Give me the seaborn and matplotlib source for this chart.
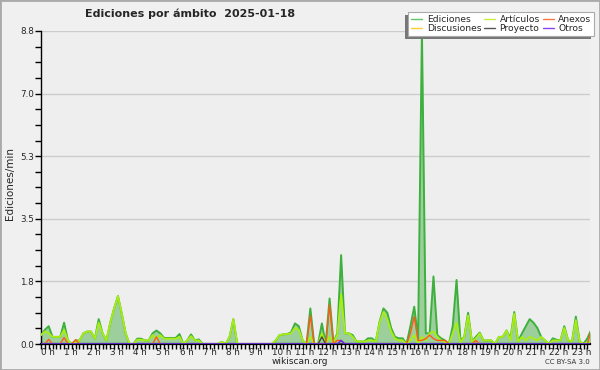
import numpy as np
import matplotlib
matplotlib.use("Agg")
import matplotlib.pyplot as plt
from matplotlib.lines import Line2D
from matplotlib.patches import Rectangle
from matplotlib.ticker import FixedLocator
import seaborn as sns

# 10-minute steps over the day (0h00 .. 23h50)
hours = np.arange(144) / 6

ediciones = [
    0.25, 0.4, 0.5, 0.2, 0.2, 0.2, 0.6, 0.1, 0.0, 0.1, 0.1, 0.3,
    0.35, 0.35, 0.15, 0.7, 0.3, 0.1, 0.6, 1.0, 1.35, 0.85, 0.3, 0.0,
    0.0, 0.15, 0.15, 0.1, 0.1, 0.3, 0.38, 0.3, 0.17, 0.17, 0.17, 0.17,
    0.28, 0.0, 0.1, 0.27, 0.1, 0.13, 0.0, 0.0, 0.0, 0.0, 0.0, 0.06,
    0.0, 0.2, 0.7, 0.0, 0.0, 0.0, 0.0, 0.0, 0.0, 0.0, 0.0, 0.0,
    0.0, 0.1, 0.25, 0.27, 0.28, 0.33, 0.58, 0.5, 0.1, 0.0, 1.0, 0.0,
    0.0, 0.58, 0.0, 1.28, 0.05, 0.3, 2.5, 0.3, 0.3, 0.25, 0.07, 0.07,
    0.07, 0.16, 0.16, 0.07, 0.63, 1.0, 0.88, 0.45, 0.2, 0.16, 0.16, 0.0,
    0.5, 1.05, 0.15, 8.8, 0.3, 0.3, 1.9, 0.25, 0.16, 0.1, 0.0, 0.5,
    1.8, 0.1, 0.2, 0.88, 0.07, 0.2, 0.32, 0.1, 0.1, 0.1, 0.0, 0.2,
    0.2, 0.38, 0.16, 0.9, 0.07, 0.3, 0.5, 0.7, 0.6, 0.45, 0.2, 0.1,
    0.0, 0.16, 0.12, 0.1, 0.5, 0.1, 0.07, 0.77, 0.07, 0.0, 0.16, 0.4,
]

articulos = [
    0.25, 0.35, 0.3, 0.2, 0.2, 0.2, 0.4, 0.1, 0.0, 0.05, 0.1, 0.3,
    0.35, 0.35, 0.15, 0.6, 0.3, 0.1, 0.6, 1.0, 1.35, 0.85, 0.3, 0.0,
    0.0, 0.12, 0.12, 0.1, 0.1, 0.25, 0.15, 0.25, 0.15, 0.15, 0.15, 0.15,
    0.2, 0.0, 0.1, 0.22, 0.1, 0.1, 0.0, 0.0, 0.0, 0.0, 0.0, 0.06,
    0.0, 0.2, 0.7, 0.0, 0.0, 0.0, 0.0, 0.0, 0.0, 0.0, 0.0, 0.0,
    0.0, 0.1, 0.25, 0.27, 0.28, 0.3, 0.45, 0.4, 0.1, 0.0, 0.2, 0.0,
    0.0, 0.3, 0.0, 0.2, 0.05, 0.25, 1.4, 0.3, 0.3, 0.2, 0.07, 0.07,
    0.07, 0.1, 0.1, 0.07, 0.6, 0.9, 0.7, 0.35, 0.15, 0.1, 0.1, 0.0,
    0.1, 0.25, 0.0, 0.2, 0.1, 0.3, 0.35, 0.2, 0.1, 0.05, 0.0, 0.3,
    0.6, 0.05, 0.2, 0.8, 0.07, 0.15, 0.3, 0.1, 0.1, 0.1, 0.0, 0.2,
    0.2, 0.38, 0.1, 0.85, 0.07, 0.2, 0.1, 0.2, 0.15, 0.1, 0.2, 0.1,
    0.0, 0.1, 0.1, 0.1, 0.45, 0.1, 0.07, 0.67, 0.07, 0.0, 0.05, 0.07,
]

anexos = [0.0] * 144
for i, v in {2: 0.13, 6: 0.18, 9: 0.12, 30: 0.2, 70: 0.8, 75: 1.1,
             77: 0.1, 78: 0.1, 96: 0.3, 97: 0.77, 98: 0.1, 99: 0.1,
             100: 0.15, 101: 0.25, 102: 0.15, 103: 0.1, 104: 0.1,
             105: 0.1, 113: 0.1, 143: 0.4}.items():
    anexos[i] = v

discusiones = [0.0] * 144

proyecto = [0.0] * 144
proyecto[73] = 0.2

otros = [0.0] * 144
otros[78] = 0.1

y_ticks = np.linspace(0, 8.8, 6)
hour_labels = [f"{h} h" for h in range(24)]

sns.set_theme(style="white")
plt.rcParams['font.family'] = ['DejaVu Sans']

fig = plt.figure(figsize=(6, 3.7), dpi=100, facecolor='#f0f0f0')
ax = fig.add_axes([41/600, 26/370, 549/600, 313/370])
ax.set_facecolor('#eeeeee')

ax.fill_between(hours, ediciones, color='#9ccf9c', lw=0, zorder=1)
sns.lineplot(x=hours, y=ediciones, color='#3db03d', lw=1.4, ax=ax, zorder=3)
sns.lineplot(x=hours, y=articulos, color='#aaee11', lw=1.3, ax=ax, zorder=3)
sns.lineplot(x=hours, y=discusiones, color='#ffcc33', lw=1, ax=ax, zorder=3)
sns.lineplot(x=hours, y=anexos, color='#ff5a1a', lw=1, ax=ax, zorder=3)
sns.lineplot(x=hours, y=proyecto, color='#444444', lw=1, ax=ax, zorder=3)
sns.lineplot(x=hours, y=otros, color='#5522ff', lw=1, ax=ax, zorder=3)

ax.set_xlim(0, 23.78)
ax.set_ylim(0, 8.8)
ax.set_xlabel("")
ax.set_ylabel("")

ax.set_yticks(y_ticks)
ax.set_yticklabels([f"{v:.1f}" for v in y_ticks])
ax.yaxis.set_minor_locator(FixedLocator(np.arange(0, 8.81, 0.44)))
ax.set_xticks(range(24))
ax.set_xticklabels(hour_labels, ha='left')
ax.xaxis.set_minor_locator(FixedLocator(np.arange(0, 23.8, 1/6)))

ax.tick_params(which='both', direction='out', color='black', width=1,
               labelsize=6.3, left=True, bottom=True, length=4)
ax.tick_params(axis='x', which='both', length=3.5, pad=-0.5)
ax.tick_params(axis='y', pad=1)

ax.yaxis.grid(True, color='#cccccc', lw=1)
ax.set_axisbelow(True)
for s in ['top', 'right']:
    ax.spines[s].set_visible(False)
ax.spines['left'].set_color('black')
ax.spines['left'].set_linewidth(1)
ax.spines['bottom'].set_color('black')
ax.spines['bottom'].set_linewidth(1.6)

# legend
names = ["Ediciones", "Discusiones", "Artículos", "Proyecto", "Anexos", "Otros"]
cols = ['#66c266', '#ffcc33', '#c6ee44', '#555555', '#ff7744', '#8844ee']
handles = [Line2D([0], [0], color=c, lw=1) for c in cols]
leg = fig.legend(handles, names, ncol=3, loc='upper right',
                 bbox_to_anchor=(594/600, 1 - 12/370), fontsize=6.6,
                 frameon=True, fancybox=False, edgecolor='#aaaaaa',
                 facecolor='white', framealpha=1, handlelength=1.2,
                 handletextpad=0.5, columnspacing=0.3, labelspacing=0.05,
                 borderpad=0.3, borderaxespad=0)
leg.get_frame().set_linewidth(0.8)
fig.canvas.draw()
bb = leg.get_window_extent()
fig.add_artist(Rectangle(((bb.x0 - 3) / 600, (bb.y0 - 3) / 370),
                         bb.width / 600, bb.height / 370,
                         transform=fig.transFigure, facecolor='#777777',
                         edgecolor='none', zorder=4))

fig.text(85/600, 1 - 14/370, "Ediciones por ámbito  2025-01-18",
         fontsize=8, fontweight='bold', ha='left', va='center')
fig.text(10/600, 1 - 184/370, "Ediciones/min", rotation=90,
         fontsize=7.5, ha='center', va='center')
fig.text(300/600, 1 - 361/370, "wikiscan.org", fontsize=6.5,
         ha='center', va='center', color='#222222')
fig.text(590/600, 1 - 362/370, "CC BY-SA 3.0", fontsize=5,
         ha='right', va='center', color='#333333')

fig.add_artist(Rectangle((0, 0), 1, 1, transform=fig.transFigure,
                         fill=False, edgecolor='#aaaaaa', lw=2))

fig.savefig('out.png', dpi=100, facecolor=fig.get_facecolor())
